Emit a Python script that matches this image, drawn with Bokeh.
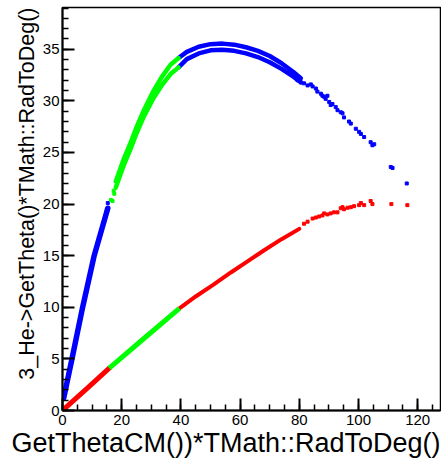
import numpy as np
from bokeh.plotting import figure
from bokeh.models import SingleIntervalTicker, Range1d, Title
from bokeh.embed import file_html
from bokeh.resources import INLINE

BLUE = "#0000ff"
GREEN = "#00ff00"
RED = "#ff0000"

# ---- upper branch ----
# blue, low CM angles
up1_x = [0.4, 3.2, 6.8, 10.7, 15.3]
up1_y = [1.2, 5.0, 10.0, 15.0, 19.6]
# green, middle CM angles (two strands)
upg_x = [18.0, 20.6, 22.8, 24.8, 27.5, 30.5, 33.5, 36.5, 39.2]
upgA_y = [22.2, 24.3, 25.8, 27.3, 29.1, 30.85, 32.3, 33.5, 34.15]
upgB_y = [21.6, 23.7, 25.2, 26.7, 28.5, 30.15, 31.5, 32.6, 33.25]
# blue, high CM angles (two strands)
up2_x = [39.2, 42, 46, 50, 54, 58, 62, 66, 70, 74, 78, 80.5]
up2A_y = [34.15, 34.75, 35.25, 35.5, 35.55, 35.45, 35.2, 34.85, 34.35, 33.65, 32.8, 32.2]
up2B_y = [33.25, 34.05, 34.6, 34.9, 34.95, 34.85, 34.6, 34.25, 33.75, 33.1, 32.35, 31.8]
# sparse points
upg_sp_x = [16.4, 16.9, 17.3, 17.5]
upg_sp_y = [20.4, 20.3, 21.3, 21.0]
up_sp_x = [15.0, 15.3, 79.4, 80.5, 81.6, 82.8, 83.9, 84.5, 85.6, 86.1, 87.3, 87.8,
           88.4, 88.9, 89.5, 90.1, 90.6, 91.2, 92.3, 92.9, 94.0, 94.6, 95.1, 96.8,
           97.4, 99.1, 100.2, 100.8, 101.9, 104.1, 104.7, 105.3, 110.9, 111.5, 116.3]
up_sp_y = [19.5, 20.1, 32.0, 31.8, 31.7, 31.5, 31.6, 31.4, 31.2, 30.9, 30.7, 30.5,
           30.4, 30.2, 30.5, 29.9, 29.6, 29.7, 29.4, 29.1, 28.9, 28.8, 28.4, 28.0,
           27.8, 27.3, 27.0, 26.8, 26.5, 26.0, 25.7, 25.8, 23.6, 23.5, 22.0]

# ---- lower branch ----
low1_x = [0.0, 8.5, 15.8]
low1_y = [0.0, 2.2, 4.1]
lowg_x = [15.8, 27.6, 39.5]
lowg_y = [4.1, 7.0, 9.9]
low2_x = [39.5, 45, 51, 57, 62.5, 68, 74, 80]
low2_y = [9.9, 11.05, 12.2, 13.4, 14.45, 15.5, 16.6, 17.6]
low_sp_x = [81.6, 82.8, 84.5, 85.6, 86.7, 87.8, 88.4, 89.5, 90.6, 91.7, 92.9, 94.0,
            94.6, 95.1, 96.3, 97.4, 98.5, 100.2, 100.8, 101.9, 104.1, 104.7, 111.1, 116.5]
low_sp_y = [18.1, 18.3, 18.6, 18.7, 18.8, 18.9, 19.1, 19.0, 19.1, 19.2, 19.2, 19.6,
            19.7, 19.5, 19.65, 19.7, 19.8, 19.9, 20.1, 19.9, 20.3, 20.0, 20.0, 19.9]

x_tick_step = 20
y_tick_step = 5
x_label = "GetThetaCM())*TMath::RadToDeg()"
y_label = "3_He->GetTheta()*TMath::RadToDeg()"

FONT = "Liberation Sans"

p = figure(width=441, height=460, output_backend="svg", toolbar_location=None,
           x_range=Range1d(0, 127.7), y_range=Range1d(0, 39.05),
           min_border_left=62, min_border_right=1, min_border_top=7,
           min_border_bottom=50)
p.grid.visible = False
p.background_fill_color = "white"
p.border_fill_color = "white"
p.outline_line_color = "black"
p.outline_line_width = 1.5

for ax, step, nminor in ((p.xaxis[0], x_tick_step, 4), (p.yaxis[0], y_tick_step, 5)):
    ax.ticker = SingleIntervalTicker(interval=step, num_minor_ticks=nminor)
    ax.axis_line_width = 2
    ax.axis_line_color = "black"
    ax.major_tick_in = 12
    ax.major_tick_out = 0
    ax.minor_tick_in = 6
    ax.minor_tick_out = 0
    ax.major_tick_line_width = 2
    ax.minor_tick_line_width = 1.5
    ax.major_tick_line_color = "black"
    ax.minor_tick_line_color = "black"
    ax.major_label_text_font = FONT
    ax.major_label_text_font_size = "15px"
    ax.major_label_text_color = "black"

p.xaxis.major_label_standoff = 4
p.yaxis.major_label_standoff = 3

p.add_layout(Title(text=x_label, align="right", text_font=FONT, text_font_size="27px",
                   text_font_style="normal", text_color="black", standoff=-4), "below")
p.add_layout(Title(text=y_label, align="right", text_font=FONT, text_font_size="21.5px",
                   text_font_style="normal", text_color="black", standoff=2), "left")

# lower branch
p.line(low1_x, low1_y, color=RED, line_width=5, line_cap="round")
p.line(low2_x, low2_y, color=RED, line_width=4, line_cap="round")
p.scatter(low_sp_x, low_sp_y, marker="square", size=3, color=RED)
p.line(lowg_x, lowg_y, color=GREEN, line_width=5)

# upper branch
p.line(up1_x, up1_y, color=BLUE, line_width=5.5, line_cap="round")
p.line(up2_x, up2A_y, color=BLUE, line_width=4.5, line_cap="round")
p.line(up2_x, up2B_y, color=BLUE, line_width=4.5, line_cap="round")
p.scatter(up_sp_x, up_sp_y, marker="square", size=3, color=BLUE)
p.line(upg_x, upgA_y, color=GREEN, line_width=4.5, line_cap="round")
p.line(upg_x, upgB_y, color=GREEN, line_width=4.5, line_cap="round")
p.scatter(upg_sp_x, upg_sp_y, marker="square", size=3, color=GREEN)

open("out.html", "w").write(file_html(p, INLINE))
